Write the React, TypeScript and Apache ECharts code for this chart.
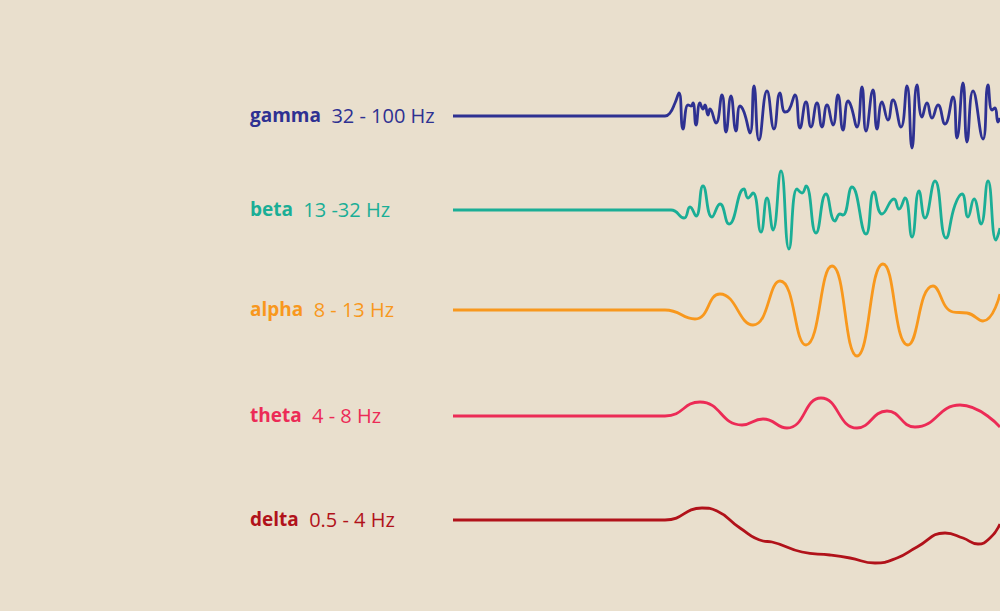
import React, { useEffect, useRef } from "react";
import * as echarts from "echarts";

// time axis (ms from the start of the trace) and amplitudes (µV, relative) per band
const bandNames = ["gamma", "beta", "alpha", "theta", "delta"];
const bandRanges = ["32 - 100 Hz", "13 -32 Hz", "8 - 13 Hz", "4 - 8 Hz", "0.5 - 4 Hz"];
const bandColors = ["#2e3192", "#1aae96", "#f8981d", "#ec2b56", "#b1121a"];

const gammaT = [0, 212, 217, 222, 226, 230, 235, 238, 240, 243, 247, 250, 252, 255, 257, 263, 269, 273, 278, 283, 287, 291, 297, 301, 306, 314, 321, 327, 332, 336, 342, 347, 353, 358, 364, 369, 374, 380, 385, 390, 395, 398, 404, 409, 413, 420, 424, 429, 435, 440, 448, 454, 459, 464, 469, 474, 479, 485, 492, 500, 504, 510, 514, 520, 530, 535, 539, 542, 545, 547];
const gammaA = [0, 0, 3, 13, 23, -13, 11, 10, 13, -9, 13, 7, 11, 1, 7, -7, 21, -16, 20, -15, 10, 4, -17, 30, -24, 25, -13, 23, 4, 6, 21, -12, 14, -11, 13, -11, 11, -9, 21, -14, 15, 10, -11, 29, -15, 26, -13, 14, -4, 16, -11, 30, -32, 31, -1, 13, -2, 11, -8, 19, -22, 33, -26, 25, -23, 31, 6, 8, -6, -2];

const betaT = [0, 218, 231, 237, 243, 250, 259, 267, 276, 291, 295, 300, 308, 314, 320, 328, 336, 344, 349, 353, 363, 373, 382, 387, 390, 399, 413, 421, 429, 441, 446, 452, 459, 466, 472, 482, 493, 502, 509, 515, 521, 528, 535, 543, 547];
const betaA = [0, 0, -8, 3, -6, 24, -7, 6, -14, 21, 12, 17, -22, 12, -20, 39, -39, 21, 17, 24, -23, 16, -11, -4, -5, 23, -24, 18, -4, 11, 1, 12, -27, 19, -8, 29, -28, 5, 16, -7, 11, -14, 29, -30, -18];

const alphaT = [0, 212, 242, 267, 300, 327, 353, 379, 404, 430, 455, 480, 500, 514, 530, 547];
const alphaA = [0, 0, -9, 16, -15, 29, -35, 44, -46, 46, -35, 24, -2, -3, -11, 16];

const thetaT = [0, 212, 247, 289, 310, 334, 368, 404, 434, 462, 507, 547];
const thetaA = [0, 0, 14, -9, -3, -12, 18, -12, 5, -11, 11, -11];

const deltaT = [0, 212, 249, 264, 287, 310, 319, 349, 377, 397, 422, 444, 464, 492, 510, 525, 537, 547];
const deltaA = [0, 0, 12, 9, -8, -21, -22, -32, -35, -38, -43, -38, -27, -13, -18, -24, -18, -4];

const bandTimes = [gammaT, betaT, alphaT, thetaT, deltaT];
const bandAmps = [gammaA, betaA, alphaA, thetaA, deltaA];
const timeMax = 547;

// layout
const gridCenters = [116, 210, 310, 416, 520];
const gridHalf = [45, 50, 55, 30, 50];
const gridLeft = 453;
const labelX = 250;
const fontFamily = "'Open Sans', 'Noto Sans', sans-serif";
const nameSize = 19;
const rangeSize = 20;

export default function App() {
  const ref = useRef<HTMLDivElement>(null);
  useEffect(() => {
    if (!ref.current) return;
    const chart = echarts.init(ref.current, null, { renderer: "svg" });
    const grids = gridCenters.map((c, i) => ({
      left: gridLeft,
      right: 0,
      top: c - gridHalf[i],
      height: gridHalf[i] * 2,
      containLabel: false,
    }));
    const xAxes = bandNames.map((_, i) => ({
      type: "value",
      gridIndex: i,
      min: 0,
      max: timeMax,
      show: false,
    }));
    const yAxes = bandNames.map((_, i) => ({
      type: "value",
      gridIndex: i,
      min: -gridHalf[i],
      max: gridHalf[i],
      show: false,
    }));
    const series = bandNames.map((name, i) => ({
      name,
      type: "line",
      xAxisIndex: i,
      yAxisIndex: i,
      data: bandTimes[i].map((t, j) => [t, bandAmps[i][j]]),
      smooth: 0.5,
      showSymbol: false,
      symbol: "none",
      lineStyle: { color: bandColors[i], width: 2.8 },
      itemStyle: { color: bandColors[i] },
      clip: true,
    }));
    const graphic = bandNames.map((name, i) => ({
      type: "text",
      x: labelX,
      y: gridCenters[i] - 1,
      style: {
        text: `{n|${name}}  {r|${bandRanges[i]}}`,
        fontFamily,
        fontSize: rangeSize,
        fill: bandColors[i],
        verticalAlign: "middle",
        rich: {
          n: { fontFamily, fontSize: nameSize, fontWeight: "bold", fill: bandColors[i] },
          r: { fontFamily, fontSize: rangeSize, fontWeight: "normal", fill: bandColors[i] },
        },
      },
    }));
    chart.setOption({
      animation: false,
      backgroundColor: "#e9dfcd",
      grid: grids,
      xAxis: xAxes,
      yAxis: yAxes,
      series,
      graphic,
    });
    return () => chart.dispose();
  }, []);
  return (
    <div
      ref={ref}
      style={{ position: "fixed", left: 0, top: 0, width: 1000, height: 611 }}
    />
  );
}
